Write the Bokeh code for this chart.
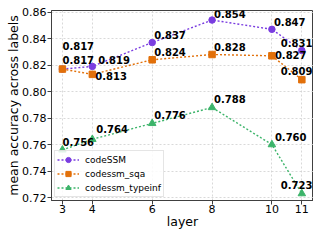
from bokeh.plotting import figure
from bokeh.models import Range1d, FixedTicker, Legend, LegendItem, ColumnDataSource, PrintfTickFormatter
from bokeh.core.properties import value
from bokeh.embed import file_html
from bokeh.resources import INLINE

layers = [3, 4, 6, 8, 10, 11]
codessm = [0.817, 0.819, 0.837, 0.854, 0.847, 0.831]
codessm_sqa = [0.817, 0.813, 0.824, 0.828, 0.827, 0.809]
codessm_typeinf = [0.756, 0.764, 0.776, 0.788, 0.760, 0.723]
series_names = ["codeSSM", "codessm_sqa", "codessm_typeinf"]
y_ticks = [0.72, 0.74, 0.76, 0.78, 0.80, 0.82, 0.84, 0.86]
x_ticks = [3, 4, 6, 8, 10, 11]

colors = ["#7a3de0", "#e2700a", "#3cb46a"]
markers = ["circle", "square", "triangle"]
sizes = [6.5, 6.5, 7.5]
# annotation offsets in screen pixels (style only)
dxs = [[0, 6, 2, 2, 2, -21], [0, 3, 2, 2, 3, -21], [0, 4, 2, 2, 3, -21]]
dys = [[-23, -6, -8, -6, -7, -8], [-9, 2, -8, -7, -1, -9], [-8, -10, -8, -8, -8, -9]]

FONT = "DejaVu Sans"

p = figure(width=313, height=231, output_backend="svg", toolbar_location=None,
           x_range=Range1d(2.635, 11.39), y_range=Range1d(0.7178, 0.8612),
           min_border_left=51, min_border_right=0, min_border_top=10, min_border_bottom=28)

p.background_fill_color = "white"
p.border_fill_color = "white"
p.outline_line_color = "#404040"
p.outline_line_width = 1

for ax in (p.xaxis[0], p.yaxis[0]):
    ax.axis_line_color = "#404040"
    ax.major_tick_line_color = "#404040"
    ax.major_tick_out = 4
    ax.major_tick_in = 0
    ax.minor_tick_line_color = None
    ax.major_label_text_font = FONT
    ax.major_label_text_font_size = "11px"
    ax.major_label_text_color = "black"
    ax.axis_label_text_font = FONT
    ax.axis_label_text_font_size = "12.5px"
    ax.axis_label_text_font_style = "normal"
    ax.axis_label_text_color = "black"

p.xaxis.major_label_standoff = 0
p.xaxis.axis_label_standoff = -2
p.yaxis.major_label_standoff = 1
p.yaxis.axis_label_standoff = -2
p.xaxis.ticker = FixedTicker(ticks=x_ticks)
p.yaxis.ticker = FixedTicker(ticks=y_ticks)
p.yaxis.formatter = PrintfTickFormatter(format="%.2f")
p.xaxis.axis_label = "layer"
p.yaxis.axis_label = "mean accuracy across labels"

for g in (p.xgrid[0], p.ygrid[0]):
    g.grid_line_color = "#cfcfcf"
    g.grid_line_dash = "2 2"
    g.grid_line_width = 0.8

items = []
all_vals = [codessm, codessm_sqa, codessm_typeinf]
for name, vals, col, mk, sz in zip(series_names, all_vals, colors, markers, sizes):
    src = ColumnDataSource(dict(x=layers, y=vals))
    r1 = p.line("x", "y", source=src, line_color=col, line_width=1.4, line_dash="2 2")
    r2 = p.scatter("x", "y", source=src, marker=mk, size=sz, fill_color=col, line_color=col)
    items.append(LegendItem(label=name, renderers=[r1, r2]))

for vals, dx, dy in zip(all_vals, dxs, dys):
    src = ColumnDataSource(dict(x=layers, y=vals, lab=["%.3f" % v for v in vals], dx=dx, dy=dy))
    p.text("x", "y", text="lab", source=src, x_offset="dx", y_offset="dy",
           text_font=value(FONT), text_font_size="10px", text_font_style="bold",
           text_color="black", text_align="left", text_baseline="middle")

legend = Legend(items=items, location="bottom_left")
legend.label_text_font = FONT
legend.label_text_font_size = "9px"
legend.label_text_color = "black"
legend.glyph_width = 22
legend.glyph_height = 13
legend.label_height = 13
legend.spacing = 1
legend.padding = 2
legend.margin = 3
legend.label_standoff = 6
legend.border_line_color = "#cccccc"
legend.background_fill_alpha = 0.85
p.add_layout(legend, "center")

open("out.html", "w").write(file_html(p, INLINE))
